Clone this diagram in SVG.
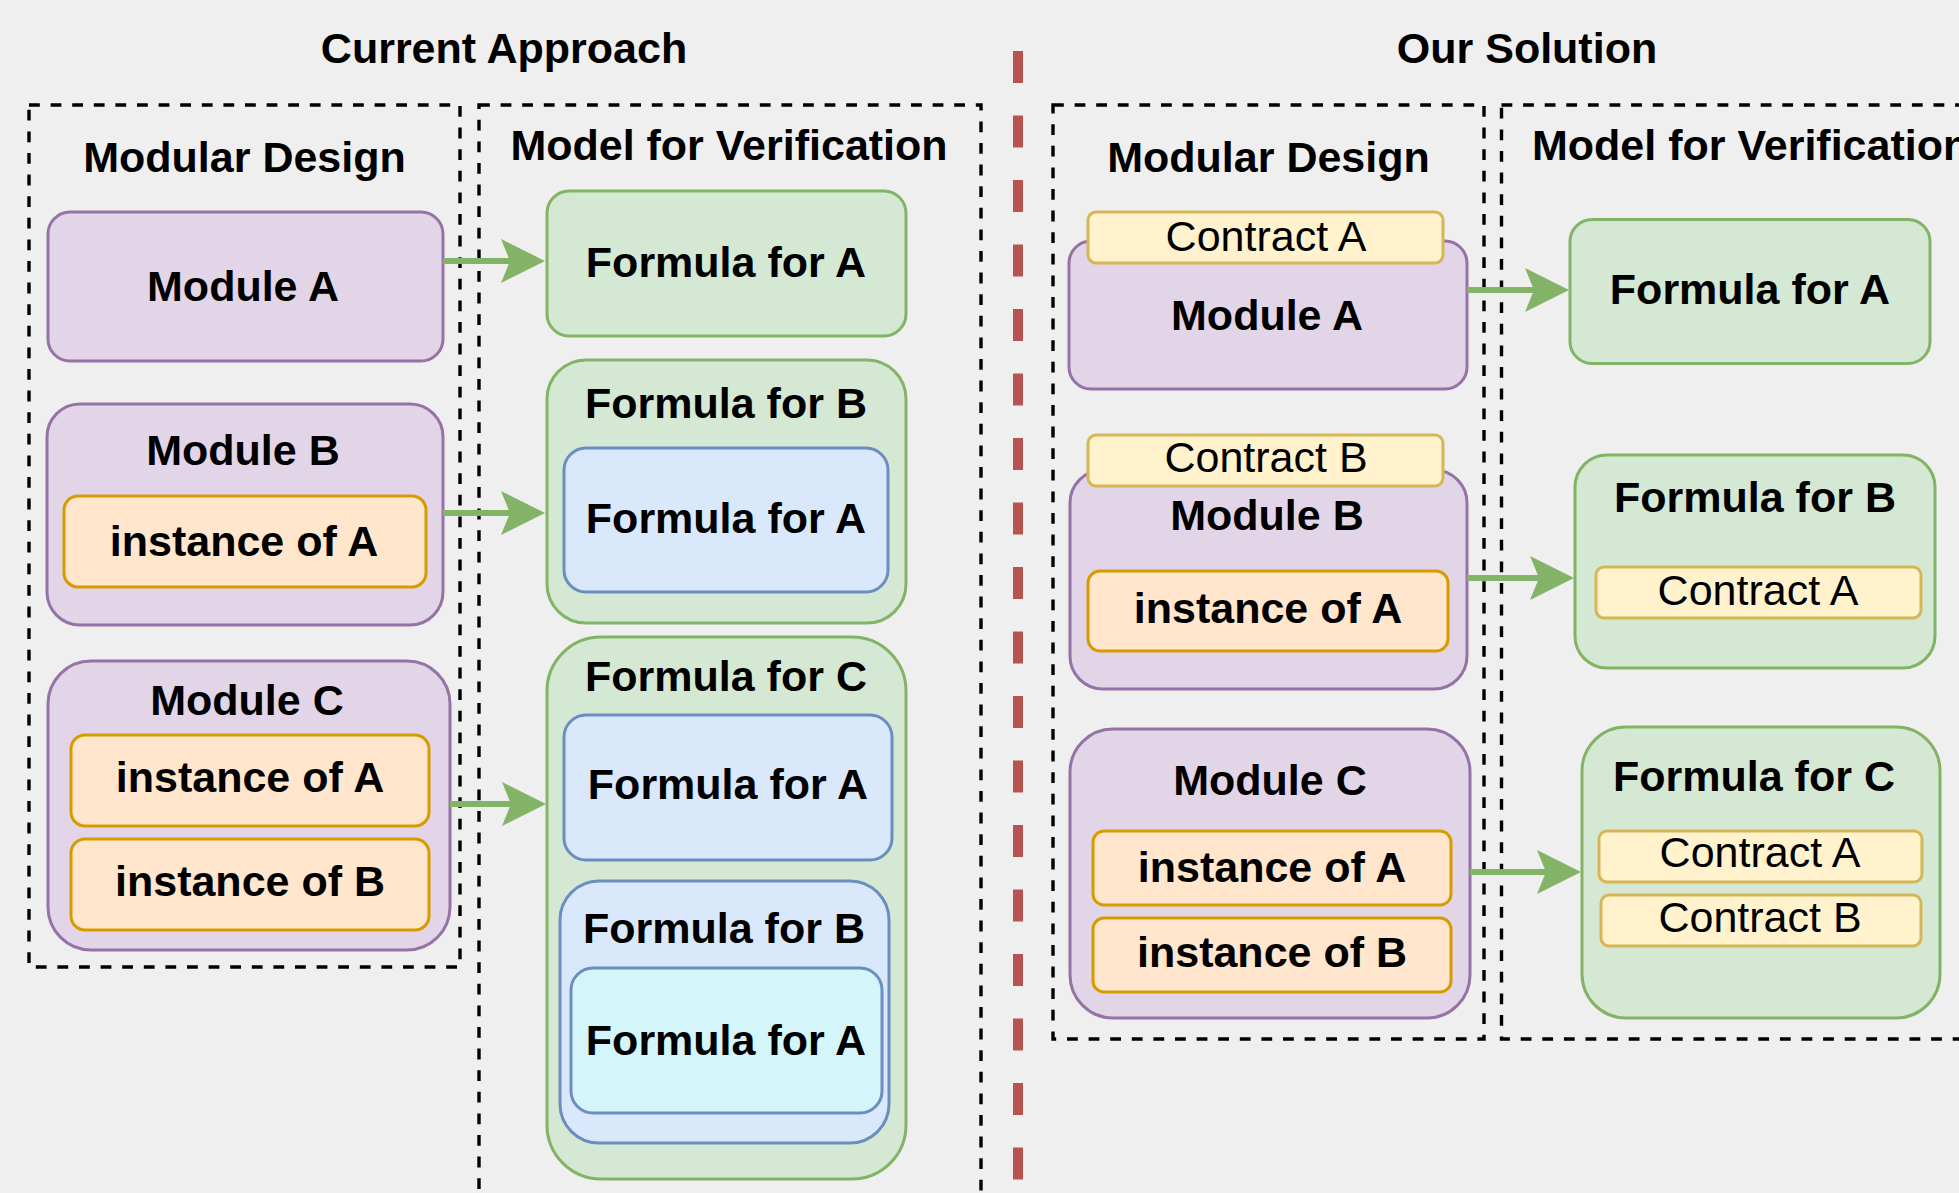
<svg xmlns="http://www.w3.org/2000/svg" width="1959" height="1193" viewBox="0 0 1959 1193">
<style>
.b{font-family:"Liberation Sans",Arial,sans-serif;font-size:43px;font-weight:bold;fill:#000;text-anchor:middle}
.r{font-family:"Liberation Sans",Arial,sans-serif;font-size:43px;fill:#000;text-anchor:middle}
.dash{fill:none;stroke:#000;stroke-width:3.4;stroke-dasharray:10.8 10.8}
.pur{fill:#e1d5e7;stroke:#9673a6;stroke-width:3}
.grn{fill:#d5e8d4;stroke:#82b366;stroke-width:3}
.org{fill:#ffe6cc;stroke:#d79b00;stroke-width:3}
.blu{fill:#dae8fc;stroke:#6c8ebf;stroke-width:3}
.cyn{fill:#d4f6fa;stroke:#6c8ebf;stroke-width:3}
.yel{fill:#fff2cc;stroke:#d6b656;stroke-width:3}
.arr{stroke:#82b366;stroke-width:6;fill:none;marker-end:url(#ah)}
</style>
<defs>
<marker id="ah" markerUnits="userSpaceOnUse" markerWidth="46" markerHeight="46" refX="9" refY="22" orient="auto" viewBox="0 0 46 46">
<path d="M0,0 L44,22 L0,44 L9,22 Z" fill="#82b366"/>
</marker>
</defs>
<rect x="0" y="0" width="1959" height="1193" fill="#efefef"/>

<g id="titles">
<text class="b" x="504" y="63">Current Approach</text>
<text class="b" x="1527" y="63">Our Solution</text>
</g>

<g id="divider">
<line x1="1018" y1="51" x2="1018" y2="1200" stroke="#b85450" stroke-width="10" stroke-dasharray="32 32.5"/>
</g>

<g id="left-design-group">
<rect class="dash" x="29" y="105" width="431" height="862"/>
<text class="b" x="244.5" y="172">Modular Design</text>
</g>
<g id="left-model-group">
<rect class="dash" x="479" y="105" width="502" height="1120"/>
<text class="b" x="729" y="160">Model for Verification</text>
</g>
<g id="right-design-group">
<rect class="dash" x="1053" y="105" width="431" height="934"/>
<text class="b" x="1268.5" y="172">Modular Design</text>
</g>
<g id="right-model-group">
<rect class="dash" x="1501.5" y="105" width="520" height="934"/>
<text class="b" x="1532" y="160" style="text-anchor:start">Model for Verification</text>
</g>

<!-- Left: Current approach -->
<g id="L-moduleA">
<rect class="pur" x="48" y="212" width="395" height="149" rx="22"/>
<text class="b" x="243" y="301">Module A</text>
</g>
<g id="L-formulaA">
<rect class="grn" x="547" y="191" width="359" height="145" rx="22"/>
<text class="b" x="726" y="277">Formula for A</text>
</g>
<g id="L-moduleB">
<rect class="pur" x="47" y="404" width="396" height="221" rx="33"/>
<text class="b" x="243" y="465">Module B</text>
<g id="L-moduleB-instA">
<rect class="org" x="64" y="496" width="362" height="91" rx="14"/>
<text class="b" x="244" y="556">instance of A</text>
</g>
</g>
<g id="L-formulaB">
<rect class="grn" x="547" y="360" width="359" height="263" rx="39"/>
<text class="b" x="726" y="418">Formula for B</text>
<g id="L-formulaB-A">
<rect class="blu" x="564" y="448" width="324" height="144" rx="22"/>
<text class="b" x="726" y="533">Formula for A</text>
</g>
</g>
<g id="L-moduleC">
<rect class="pur" x="48" y="661" width="402" height="289" rx="43"/>
<text class="b" x="247" y="715">Module C</text>
<g id="L-moduleC-instA">
<rect class="org" x="71" y="735" width="358" height="91" rx="14"/>
<text class="b" x="250" y="792">instance of A</text>
</g>
<g id="L-moduleC-instB">
<rect class="org" x="71" y="839" width="358" height="91" rx="14"/>
<text class="b" x="250" y="896">instance of B</text>
</g>
</g>
<g id="L-formulaC">
<rect class="grn" x="547" y="637" width="359" height="542" rx="54"/>
<text class="b" x="726" y="691">Formula for C</text>
<g id="L-formulaC-A">
<rect class="blu" x="564" y="715" width="328" height="145" rx="22"/>
<text class="b" x="728" y="799">Formula for A</text>
</g>
<g id="L-formulaC-B">
<rect class="blu" x="560" y="881" width="329" height="262" rx="39"/>
<text class="b" x="724" y="943">Formula for B</text>
<g id="L-formulaC-B-A">
<rect class="cyn" x="571" y="968" width="311" height="145" rx="22"/>
<text class="b" x="726" y="1055">Formula for A</text>
</g>
</g>
</g>

<!-- Right: Our solution -->
<g id="R-moduleA">
<rect class="pur" x="1069" y="241" width="398" height="148" rx="22"/>
<text class="b" x="1267" y="330">Module A</text>
<g id="R-moduleA-contract">
<rect class="yel" x="1088" y="212" width="355" height="51" rx="8"/>
<text class="r" x="1266" y="251">Contract A</text>
</g>
</g>
<g id="R-formulaA">
<rect class="grn" x="1570" y="219.5" width="360" height="144" rx="22"/>
<text class="b" x="1750" y="304">Formula for A</text>
</g>
<g id="R-moduleB">
<rect class="pur" x="1070" y="470" width="397" height="219" rx="33"/>
<text class="b" x="1267" y="530">Module B</text>
<g id="R-moduleB-contract">
<rect class="yel" x="1088" y="435" width="355" height="51" rx="8"/>
<text class="r" x="1266" y="472">Contract B</text>
</g>
<g id="R-moduleB-instA">
<rect class="org" x="1088" y="571" width="360" height="80" rx="12"/>
<text class="b" x="1268" y="623">instance of A</text>
</g>
</g>
<g id="R-formulaB">
<rect class="grn" x="1575" y="455" width="360" height="213" rx="32"/>
<text class="b" x="1755" y="512">Formula for B</text>
<g id="R-formulaB-contractA">
<rect class="yel" x="1596" y="567" width="325" height="51" rx="8"/>
<text class="r" x="1758" y="605">Contract A</text>
</g>
</g>
<g id="R-moduleC">
<rect class="pur" x="1070" y="729" width="400" height="289" rx="43"/>
<text class="b" x="1270" y="795">Module C</text>
<g id="R-moduleC-instA">
<rect class="org" x="1093" y="831" width="358" height="74" rx="11"/>
<text class="b" x="1272" y="882">instance of A</text>
</g>
<g id="R-moduleC-instB">
<rect class="org" x="1093" y="918" width="358" height="74" rx="11"/>
<text class="b" x="1272" y="967">instance of B</text>
</g>
</g>
<g id="R-formulaC">
<rect class="grn" x="1582" y="727" width="358" height="291" rx="44"/>
<text class="b" x="1754" y="791">Formula for C</text>
<g id="R-formulaC-contractA">
<rect class="yel" x="1599" y="831" width="323" height="51" rx="8"/>
<text class="r" x="1760" y="867">Contract A</text>
</g>
<g id="R-formulaC-contractB">
<rect class="yel" x="1601" y="895" width="320" height="51" rx="8"/>
<text class="r" x="1760" y="932">Contract B</text>
</g>
</g>

<g id="connectors">
<line class="arr" x1="443" y1="261" x2="510" y2="261"/>
<line class="arr" x1="443" y1="513" x2="510" y2="513"/>
<line class="arr" x1="450" y1="804" x2="511" y2="804"/>
<line class="arr" x1="1467" y1="290" x2="1534" y2="290"/>
<line class="arr" x1="1467" y1="578" x2="1539" y2="578"/>
<line class="arr" x1="1470" y1="872" x2="1546" y2="872"/>
</g>
</svg>
